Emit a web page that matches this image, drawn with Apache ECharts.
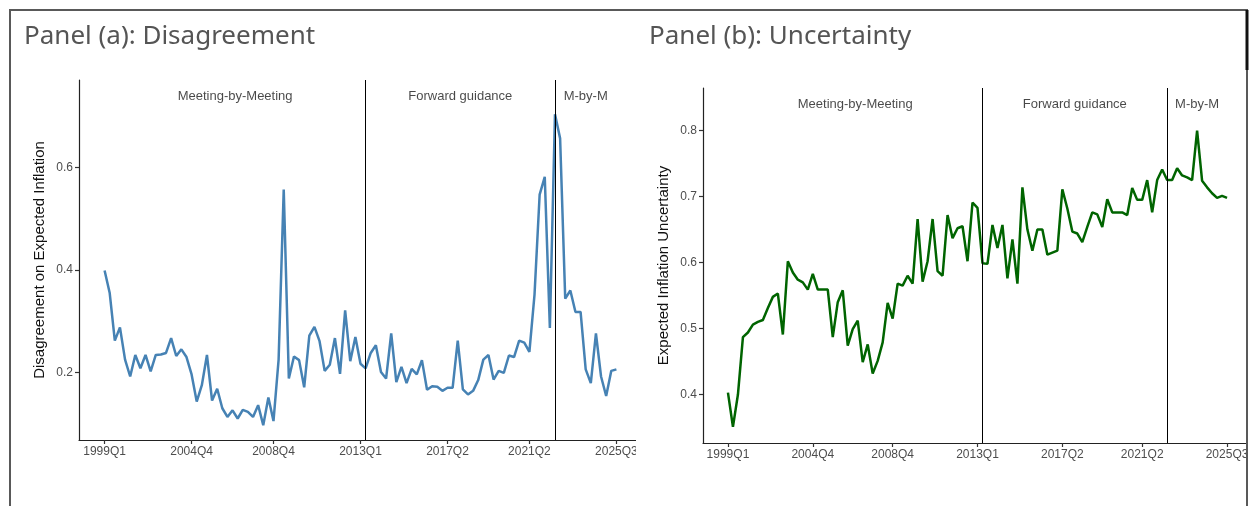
<!DOCTYPE html>
<html>
<head>
<meta charset="utf-8">
<script src="https://cdn.jsdelivr.net/npm/echarts@6/dist/echarts.min.js"></script>
<style>
  html, body { margin: 0; padding: 0; background: #fff; }
  #chart { width: 1252px; height: 506px; }
</style>
</head>
<body>
<div id="chart"></div>
<script>
// Survey rounds (quarters with a published round)
const quarters = [
  '1999Q1','1999Q2','1999Q3','1999Q4','2000Q1','2000Q3','2001Q1','2001Q3','2002Q1','2002Q3',
  '2003Q1','2003Q2','2003Q3','2003Q4','2004Q1','2004Q2','2004Q3','2004Q4',
  '2005Q1','2005Q2','2005Q3','2005Q4','2006Q1','2006Q2','2006Q3','2006Q4',
  '2007Q1','2007Q2','2007Q3','2007Q4','2008Q1','2008Q2','2008Q3','2008Q4',
  '2009Q1','2009Q2','2009Q3','2009Q4','2010Q1','2010Q2','2010Q3','2010Q4',
  '2011Q1','2011Q2','2011Q3','2011Q4','2012Q1','2012Q2','2012Q3','2012Q4',
  '2013Q1','2013Q2','2013Q3','2013Q4','2014Q1','2014Q2','2014Q3','2014Q4',
  '2015Q1','2015Q2','2015Q3','2015Q4','2016Q1','2016Q2','2016Q3','2016Q4',
  '2017Q1','2017Q2','2017Q3','2017Q4','2018Q1','2018Q2','2018Q3','2018Q4',
  '2019Q1','2019Q2','2019Q3','2019Q4','2020Q1','2020Q2','2020Q3','2020Q4',
  '2021Q1','2021Q2','2021Q3','2021Q4','2022Q1','2022Q2','2022Q3','2022Q4',
  '2023Q1','2023Q2','2023Q3','2023Q4','2024Q1','2024Q2','2024Q3','2024Q4',
  '2025Q1','2025Q2','2025Q3'
];

// Cross-sectional disagreement on expected inflation
const disagreement = [
  0.399,0.355,0.262,0.288,0.225,0.192,0.234,0.208,0.234,0.202,
  0.234,0.235,0.238,0.267,0.232,0.245,0.230,0.196,0.143,0.175,
  0.234,0.145,0.168,0.130,0.113,0.126,0.110,0.127,0.123,0.113,
  0.136,0.097,0.151,0.105,0.225,0.557,0.188,0.231,0.224,0.171,
  0.272,0.289,0.261,0.203,0.215,0.267,0.197,0.321,0.222,0.269,
  0.217,0.208,0.238,0.253,0.201,0.188,0.276,0.181,0.211,0.179,
  0.207,0.196,0.224,0.166,0.173,0.172,0.164,0.170,0.170,0.262,
  0.167,0.157,0.164,0.185,0.225,0.234,0.186,0.203,0.199,0.233,
  0.230,0.262,0.258,0.240,0.352,0.547,0.582,0.287,0.704,0.657,
  0.344,0.360,0.318,0.318,0.206,0.179,0.276,0.192,0.154,0.203,
  0.206
];

// Average individual uncertainty about expected inflation
const uncertainty = [
  0.403,0.351,0.400,0.487,0.494,0.506,0.510,0.513,0.531,0.548,
  0.553,0.491,0.602,0.585,0.574,0.570,0.559,0.583,0.559,0.559,
  0.559,0.487,0.540,0.558,0.474,0.499,0.512,0.449,0.476,0.432,
  0.451,0.479,0.539,0.515,0.568,0.565,0.580,0.568,0.666,0.571,
  0.602,0.666,0.587,0.580,0.672,0.637,0.652,0.655,0.602,0.691,
  0.683,0.599,0.598,0.657,0.622,0.657,0.576,0.635,0.568,0.714,
  0.650,0.618,0.650,0.650,0.612,0.615,0.618,0.711,0.682,0.647,
  0.644,0.631,0.654,0.676,0.673,0.654,0.696,0.676,0.676,0.676,
  0.672,0.713,0.695,0.695,0.725,0.676,0.725,0.741,0.725,0.725,
  0.743,0.732,0.729,0.725,0.800,0.724,0.714,0.705,0.698,0.701,
  0.698
];

// Axis labels shown under the time axis
const tickQuarters = ['1999Q1','2004Q4','2008Q4','2013Q1','2017Q2','2021Q2','2025Q3'];
// First round of each communication regime after the first
const regimeStarts = ['2013Q2','2022Q3'];
const regimeNames = ['Meeting-by-Meeting','Forward guidance','M-by-M'];

const yTicksA = [0.2, 0.4, 0.6];
const yTicksB = [0.4, 0.5, 0.6, 0.7, 0.8];

const tickIdx = tickQuarters.map(q => quarters.indexOf(q));
const lastIdx = quarters.length - 1;
const bounds = [0].concat(regimeStarts.map(q => quarters.indexOf(q)), [lastIdx]);

function regimeLabels(values) {
  const y = Math.max.apply(null, values) * 1.05;
  return regimeNames.map((name, i) => ({ value: [(bounds[i] + bounds[i + 1]) / 2, y], name: name }));
}

const AXIS_FONT = 'Liberation Sans, Arial, sans-serif';
const pad = lastIdx * 0.05;

function xAxisFor(gridIndex) {
  return {
    type: 'value', gridIndex: gridIndex, min: -pad, max: lastIdx + pad,
    splitLine: { show: false },
    axisLine: { show: true, onZero: false, lineStyle: { color: '#222', width: 1.2 } },
    axisTick: { show: true, customValues: tickIdx, length: 4, lineStyle: { color: '#333', width: 1.2 } },
    axisLabel: {
      customValues: tickIdx, formatter: v => quarters[Math.round(v)],
      color: '#4d4d4d', fontSize: 12, fontFamily: AXIS_FONT, margin: 6
    }
  };
}

function yAxisFor(gridIndex, min, max, ticks, name) {
  return {
    type: 'value', gridIndex: gridIndex, min: min, max: max,
    name: name, nameLocation: 'middle', nameGap: 32,
    nameTextStyle: { fontSize: 15, color: '#111', fontFamily: AXIS_FONT },
    splitLine: { show: false },
    axisLine: { show: true, onZero: false, lineStyle: { color: '#222', width: 1.2 } },
    axisTick: { show: true, customValues: ticks, length: 4, lineStyle: { color: '#333', width: 1.2 } },
    axisLabel: {
      customValues: ticks, formatter: v => v.toFixed(1),
      color: '#4d4d4d', fontSize: 12, fontFamily: AXIS_FONT, margin: 6
    }
  };
}

function regimeLines() {
  return {
    silent: true, symbol: ['none', 'none'], label: { show: false },
    lineStyle: { color: '#000', width: 1, type: 'solid' },
    data: regimeStarts.map(q => ({ xAxis: quarters.indexOf(q) }))
  };
}

function labelSeries(gridIndex, values) {
  return {
    type: 'scatter', xAxisIndex: gridIndex, yAxisIndex: gridIndex,
    symbolSize: 0, silent: true,
    data: regimeLabels(values),
    label: {
      show: true, position: 'inside', formatter: p => p.name,
      color: '#1a1a1a', fontSize: 13, fontFamily: AXIS_FONT
    }
  };
}

const chart = echarts.init(document.getElementById('chart'), null, { renderer: 'canvas' });

chart.setOption({
  backgroundColor: '#ffffff',
  animation: false,
  title: [
    { text: 'Panel (a): Disagreement', left: 24, top: 24, padding: 0,
      textStyle: { fontSize: 26, fontWeight: 'normal', color: '#555', fontFamily: 'Noto Sans' } },
    { text: 'Panel (b): Uncertainty', left: 649, top: 24, padding: 0,
      textStyle: { fontSize: 26, fontWeight: 'normal', color: '#555', fontFamily: 'Noto Sans' } }
  ],
  grid: [
    { left: 79, top: 80, width: 563, height: 360 },
    { left: 703, top: 88, width: 552, height: 355 }
  ],
  xAxis: [xAxisFor(0), xAxisFor(1)],
  yAxis: [
    yAxisFor(0, 0.068, 0.771, yTicksA, 'Disagreement on Expected Inflation'),
    yAxisFor(1, 0.3266, 0.8645, yTicksB, 'Expected Inflation Uncertainty')
  ],
  series: [
    {
      type: 'line', xAxisIndex: 0, yAxisIndex: 0,
      data: disagreement.map((v, i) => [i, v]),
      showSymbol: false, lineStyle: { color: '#4682B4', width: 2.5 },
      itemStyle: { color: '#4682B4' },
      markLine: regimeLines()
    },
    labelSeries(0, disagreement),
    {
      type: 'line', xAxisIndex: 1, yAxisIndex: 1,
      data: uncertainty.map((v, i) => [i, v]),
      showSymbol: false, lineStyle: { color: '#006400', width: 2.5 },
      itemStyle: { color: '#006400' },
      markLine: regimeLines()
    },
    labelSeries(1, uncertainty)
  ],
  graphic: [
    // panel (a) is cropped at its right edge, panel (b) at the frame
    { type: 'rect', z: 90, silent: true, shape: { x: 636, y: 60, width: 12, height: 446 }, style: { fill: '#fff' } },
    { type: 'rect', z: 90, silent: true, shape: { x: 1248, y: 0, width: 10, height: 506 }, style: { fill: '#fff' } },
    { type: 'polyline', z: 100, silent: true,
      shape: { points: [[10, 506], [10, 10], [1247, 10], [1247, 506]] },
      style: { stroke: '#595959', lineWidth: 2, fill: null } },
    { type: 'line', z: 101, silent: true,
      shape: { x1: 1247, y1: 10, x2: 1247, y2: 70 },
      style: { stroke: '#111', lineWidth: 3 } }
  ]
});
</script>
</body>
</html>
